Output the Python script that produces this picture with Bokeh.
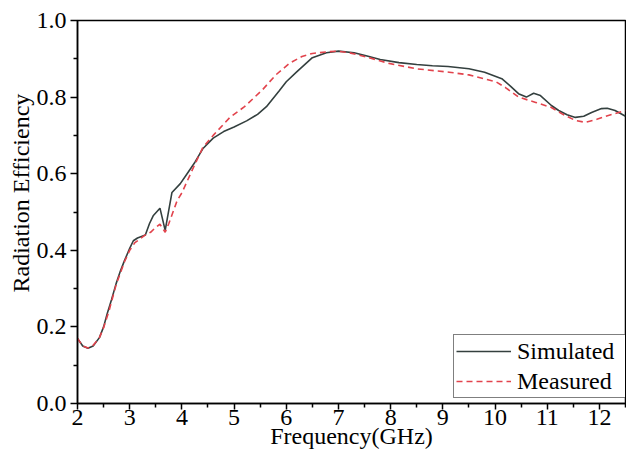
from bokeh.plotting import figure
from bokeh.models import FixedTicker, PrintfTickFormatter, Range1d, Legend, LegendItem, Title
from bokeh.embed import file_html
from bokeh.resources import INLINE

# ---- data ----
sim_freq = [2.0, 2.1, 2.2, 2.3, 2.42, 2.5, 2.57, 2.65, 2.74, 2.82, 2.9, 3.0, 3.07, 3.15,
            3.3, 3.38, 3.45, 3.58, 3.68, 3.81, 3.97, 4.1, 4.25, 4.4, 4.6, 4.8, 5.0,
            5.24, 5.45, 5.62, 5.87, 6.0, 6.2, 6.5, 6.77, 7.0, 7.3, 7.53, 7.8, 8.16,
            8.5, 8.8, 9.1, 9.5, 9.8, 10.13, 10.3, 10.45, 10.6, 10.74, 10.87, 11.08,
            11.22, 11.38, 11.54, 11.7, 11.85, 12.04, 12.15, 12.3, 12.5]
sim_eff = [0.170, 0.150, 0.144, 0.150, 0.172, 0.200, 0.235, 0.270, 0.313, 0.345, 0.373,
           0.405, 0.425, 0.432, 0.440, 0.470, 0.490, 0.510, 0.452, 0.551, 0.574, 0.600,
           0.630, 0.665, 0.693, 0.710, 0.722, 0.738, 0.755, 0.775, 0.817, 0.840, 0.866,
           0.903, 0.916, 0.920, 0.916, 0.908, 0.898, 0.890, 0.885, 0.882, 0.880, 0.874,
           0.865, 0.848, 0.828, 0.809, 0.800, 0.810, 0.804, 0.778, 0.765, 0.754, 0.747,
           0.750, 0.760, 0.770, 0.771, 0.765, 0.750]

meas_freq = [2.0, 2.1, 2.2, 2.3, 2.42, 2.5, 2.6, 2.74, 2.9, 3.0, 3.1, 3.2, 3.3, 3.4,
             3.5, 3.58, 3.68, 3.75, 3.83, 3.91, 4.0, 4.1, 4.2, 4.4, 4.6, 4.92, 5.2,
             5.55, 5.8, 6.06, 6.3, 6.5, 6.77, 6.96, 7.2, 7.53, 7.97, 8.49, 9.12, 9.5,
             10.02, 10.2, 10.45, 10.78, 11.08, 11.3, 11.54, 11.73, 11.95, 12.17, 12.5]
meas_eff = [0.170, 0.150, 0.145, 0.152, 0.172, 0.198, 0.240, 0.310, 0.370, 0.400, 0.420,
            0.430, 0.440, 0.447, 0.460, 0.468, 0.447, 0.470, 0.500, 0.530, 0.550, 0.580,
            0.610, 0.668, 0.700, 0.747, 0.775, 0.820, 0.858, 0.888, 0.906, 0.914, 0.918,
            0.920, 0.916, 0.905, 0.888, 0.874, 0.865, 0.858, 0.840, 0.825, 0.800, 0.786,
            0.773, 0.755, 0.739, 0.734, 0.742, 0.752, 0.765]

x_ticks = [2, 3, 4, 5, 6, 7, 8, 9, 10, 11, 12]
x_minor = [2.5, 3.5, 4.5, 5.5, 6.5, 7.5, 8.5, 9.5, 10.5, 11.5, 12.5]
y_ticks = [0.0, 0.2, 0.4, 0.6, 0.8, 1.0]
y_minor = [0.1, 0.3, 0.5, 0.7, 0.9]

series_names = ["Simulated", "Measured"]
x_title = "Frequency(GHz)"
y_title = "Radiation Efficiency"

FONT = "'Liberation Serif', 'Times New Roman', Times, serif"
SIM_COLOR = "#34403f"
MEAS_COLOR = "#e2434c"

p = figure(width=626, height=457, output_backend="svg", toolbar_location=None,
           x_range=Range1d(2, 12.5), y_range=Range1d(0, 1.0),
           min_border_left=77, min_border_right=1, min_border_top=20, min_border_bottom=54)
p.background_fill_color = "white"
p.border_fill_color = "white"
p.outline_line_color = "black"
p.outline_line_width = 1.5
p.xgrid.visible = False
p.ygrid.visible = False

for ax in (p.xaxis[0], p.yaxis[0]):
    ax.axis_line_color = "black"
    ax.axis_line_width = 1.5
    ax.major_tick_line_color = "black"
    ax.minor_tick_line_color = "black"
    ax.major_tick_line_width = 1.5
    ax.minor_tick_line_width = 1.5
    ax.major_tick_in = 0
    ax.minor_tick_in = 0
    ax.minor_tick_out = 4
    ax.major_label_text_font = FONT
    ax.major_label_text_font_size = "24px"
    ax.major_label_text_font_style = "normal"
    ax.major_label_text_color = "black"
    ax.axis_label_text_font = FONT
    ax.axis_label_text_font_size = "24px"
    ax.axis_label_text_font_style = "normal"
    ax.axis_label_text_color = "black"

p.xaxis[0].ticker = FixedTicker(ticks=x_ticks, minor_ticks=x_minor)
p.yaxis[0].ticker = FixedTicker(ticks=y_ticks, minor_ticks=y_minor)
p.yaxis[0].formatter = PrintfTickFormatter(format="%.1f")
p.xaxis[0].major_tick_out = 6
p.yaxis[0].major_tick_out = 7
p.xaxis[0].major_label_standoff = 0
p.yaxis[0].major_label_standoff = 4
p.xaxis[0].axis_label = x_title
p.xaxis[0].axis_label_standoff = -5

# y-axis title as a side title so it can sit above the vertical centre, like the reference
ytitle = Title(text=y_title, align="left", offset=111, standoff=0,
               text_font=FONT, text_font_size="24px", text_font_style="normal",
               text_color="black")
p.add_layout(ytitle, "left")

r_sim = p.line(sim_freq, sim_eff, line_color=SIM_COLOR, line_width=1.6)
r_meas = p.line(meas_freq, meas_eff, line_color=MEAS_COLOR, line_width=1.6, line_dash="6 4")

legend = Legend(items=[LegendItem(label=series_names[0], renderers=[r_sim]),
                       LegendItem(label=series_names[1], renderers=[r_meas])],
                location=(376, 5))
legend.border_line_color = "black"
legend.border_line_width = 1.5
legend.background_fill_color = "white"
legend.background_fill_alpha = 1.0
legend.label_text_font = FONT
legend.label_text_font_size = "24px"
legend.label_text_font_style = "normal"
legend.label_text_color = "black"
legend.glyph_width = 55
legend.glyph_height = 28
legend.label_height = 28
legend.label_width = 107
legend.label_standoff = 6
legend.padding = 2
legend.spacing = 2
legend.margin = 0
p.add_layout(legend)

open("out.html", "w").write(file_html(p, INLINE))
